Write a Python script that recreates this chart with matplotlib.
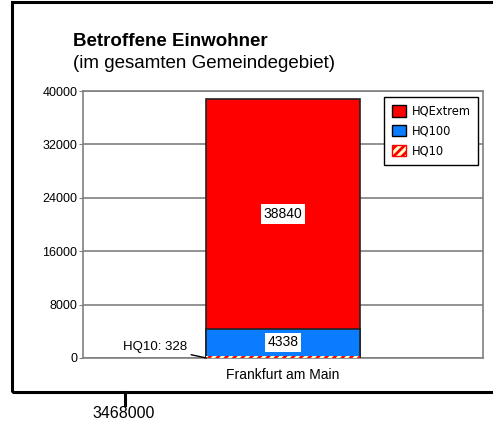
import matplotlib.pyplot as plt
from matplotlib.patches import Rectangle, Patch
from matplotlib.lines import Line2D

# data
city = ["Frankfurt am Main"]
hq_extrem = [38840]
hq100 = [4338]
hq10 = [328]
y_ticks = [0, 8000, 16000, 24000, 32000, 40000]
map_tick_label = "3468000"

W, H = 493, 428
plt.rcParams['font.family'] = ['Liberation Sans', 'DejaVu Sans']
plt.rcParams['hatch.linewidth'] = 2.0

fig = plt.figure(figsize=(W / 100, H / 100), dpi=100)

# map-style outer frame
frame = Rectangle((12 / W, 1 - 392 / H), 1.0, (390) / H, transform=fig.transFigure,
                  fill=False, edgecolor='black', linewidth=2.2, clip_on=False)
fig.add_artist(frame)
fig.add_artist(Line2D([125 / W, 125 / W], [1 - 392 / H, 1 - 405 / H],
                      transform=fig.transFigure, color='black', linewidth=2.2))
fig.text(124 / W, 1 - 414 / H, map_tick_label, ha='center', va='center', fontsize=11.5)

fig.text(73 / W, 1 - 41 / H, "Betroffene Einwohner", fontsize=13.5, fontweight='bold',
         ha='left', va='center')
fig.text(73 / W, 1 - 63 / H, "(im gesamten Gemeindegebiet)", fontsize=13.5,
         ha='left', va='center')

# plot area
ax = fig.add_axes([83 / W, 1 - 358 / H, 400 / W, 267 / H])
ax.set_xlim(-0.5, 0.5)
ax.set_ylim(0, 40000)
ax.set_yticks(y_ticks)
ax.set_yticklabels([str(t) for t in y_ticks], fontsize=9)
ax.tick_params(axis='y', length=3, color='#808080', pad=1)
ax.set_xticks([0])
ax.set_xticklabels(city, fontsize=10)
ax.tick_params(axis='x', length=0, pad=7)
for s in ax.spines.values():
    s.set_color('#808080')
    s.set_linewidth(1.2)
ax.yaxis.grid(True, color='#808080', linewidth=1.2)
ax.set_axisbelow(True)

bw = 0.383
ax.bar(0, hq_extrem, width=bw, color='#ff0000', edgecolor='#222222', linewidth=1.2, zorder=2)
ax.bar(0, hq100, width=bw, color='#0a7cff', edgecolor='#222222', linewidth=1.2, zorder=3)
ax.bar(0, hq10, width=bw, color='#ffffcc', edgecolor='#ff0000', hatch='////',
       linewidth=0, zorder=4)

box = dict(boxstyle='square,pad=0.2', facecolor='white', edgecolor='none')
ax.text(0, (hq100[0] + hq_extrem[0]) / 2, str(hq_extrem[0]), ha='center', va='center',
        fontsize=10, bbox=box, zorder=5)
ax.text(0, (hq10[0] + hq100[0]) / 2, str(hq100[0]), ha='center', va='center',
        fontsize=10, bbox=box, zorder=5)
ax.annotate(f"HQ10: {hq10[0]}", xy=(-bw / 2, 0), xytext=(-0.24, 1650),
            ha='right', va='center', fontsize=9.5,
            arrowprops=dict(arrowstyle='-', color='black', linewidth=1,
                            shrinkA=1, shrinkB=0), zorder=5)

handles = [Patch(facecolor='#ff0000', edgecolor='black', label='HQExtrem'),
           Patch(facecolor='#0a7cff', edgecolor='black', label='HQ100'),
           Patch(facecolor='#ffffcc', edgecolor='#ff0000', hatch='////', label='HQ10')]
leg = ax.legend(handles=handles, loc='upper right', bbox_to_anchor=(0.9875, 0.9775),
                borderaxespad=0,
                prop={'family': 'DejaVu Sans', 'size': 8.3}, fancybox=False,
                framealpha=1, edgecolor='black', handlelength=1.2, handleheight=1.2,
                handletextpad=0.5, labelspacing=0.6, borderpad=0.65)
leg.get_frame().set_linewidth(1)
for h in leg.legend_handles[:2]:
    h.set_linewidth(1)

fig.savefig("out.png", dpi=100)
